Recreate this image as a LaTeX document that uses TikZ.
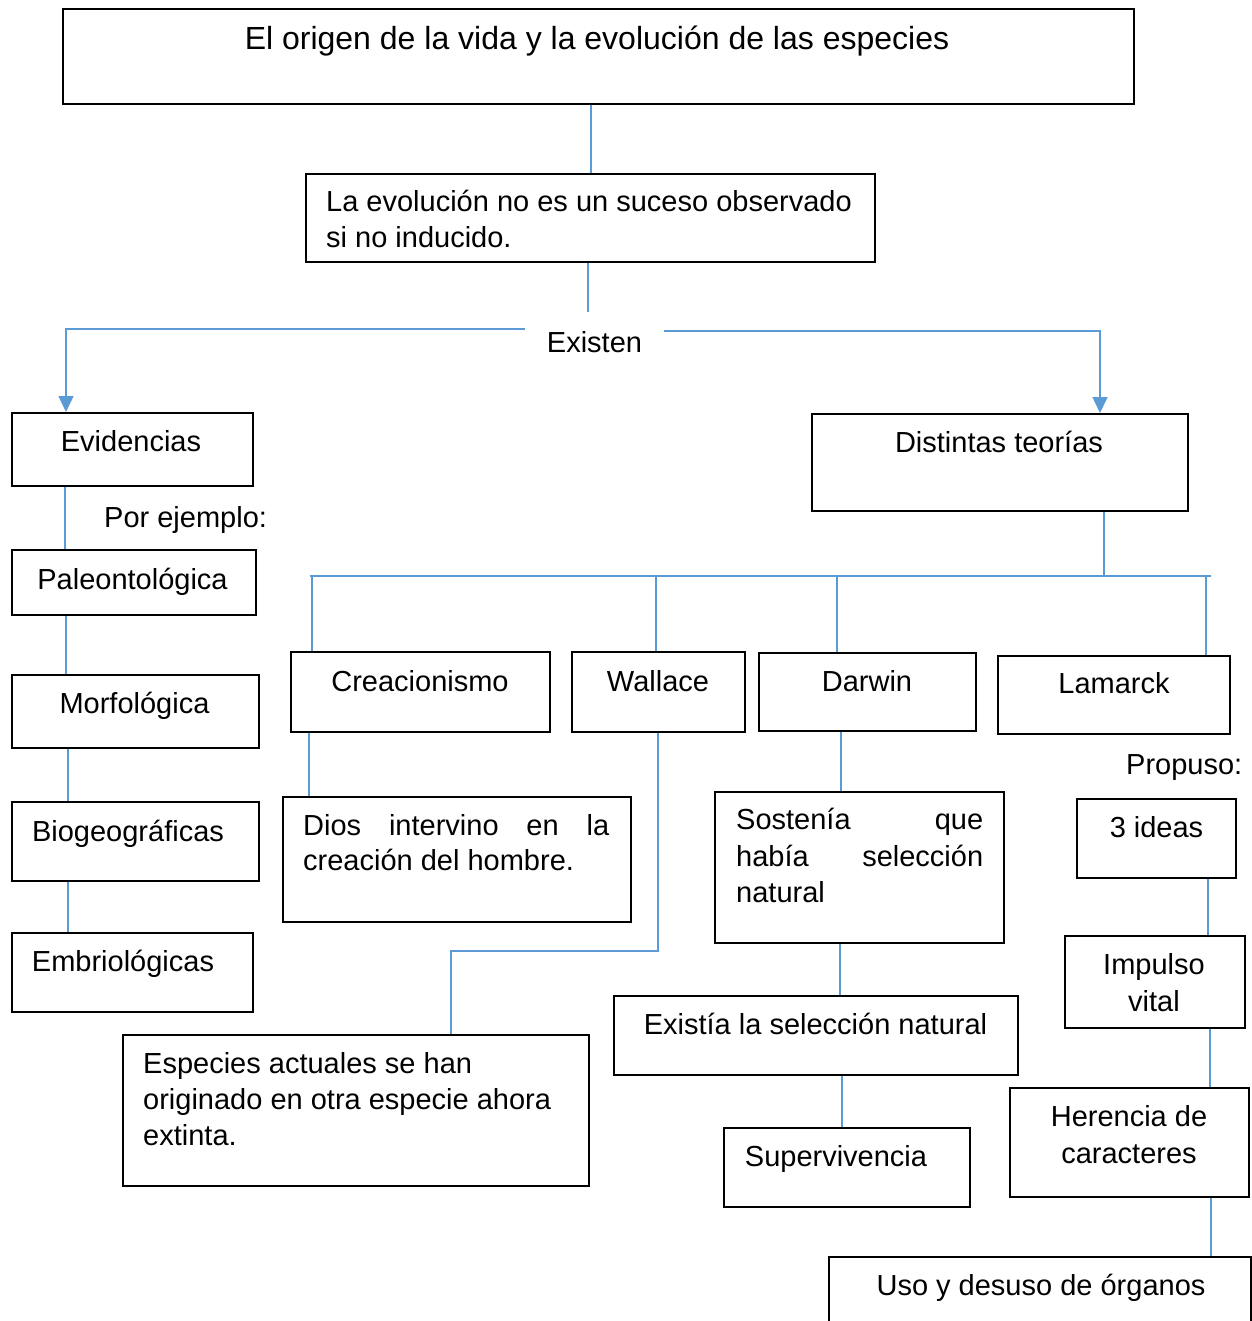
\documentclass[tikz,border=0pt]{standalone}
\usepackage{fontspec}
\setmainfont{Liberation Sans}
\usetikzlibrary{arrows.meta}
\definecolor{lnblue}{HTML}{5B9BD5}
\newcommand\mkbox[5]{\node[box, minimum width={#3-#1}, minimum height={#4-#2}] (#5) at (#1,#2) {};}
\begin{document}
\begin{tikzpicture}[x=1pt,y=-1pt,
 box/.style={draw=black, line width=2pt, anchor=north west, inner sep=0pt, rectangle},
 txt/.style={inner sep=0pt, font=\fontsize{29}{36}\selectfont},
 link/.style={draw=lnblue, line width=1.5pt},
 arr/.style={link, -{Triangle[width=15pt,length=16pt]}}]
\fill[white] (0,0) rectangle (1251,1321);
\useasboundingbox (0,0) rectangle (1251,1321);

% boxes
\mkbox{62}{8}{1133}{103}{title}
\mkbox{305}{173}{874}{261}{evol}
\mkbox{11}{412}{252}{485}{evid}
\mkbox{11}{549}{255}{614}{paleo}
\mkbox{11}{674}{258}{747}{morfo}
\mkbox{11}{801}{258}{880}{biog}
\mkbox{11}{932}{252}{1011}{embr}
\mkbox{811}{413}{1187}{510}{teor}
\mkbox{290}{651}{549}{731}{creac}
\mkbox{571}{651}{744}{731}{wall}
\mkbox{758}{652}{975}{730}{darw}
\mkbox{997}{655}{1229}{733}{lam}
\mkbox{282}{796}{630}{921}{dios}
\mkbox{122}{1034}{588}{1185}{esp}
\mkbox{714}{791}{1003}{942}{sost}
\mkbox{613}{995}{1017}{1074}{exis}
\mkbox{723}{1127}{969}{1206}{sup}
\mkbox{1076}{798}{1235}{877}{ideas}
\mkbox{1064}{935}{1244}{1027}{imp}
\mkbox{1009}{1087}{1248}{1196}{her}
\mkbox{828}{1256}{1250}{1340}{uso}

% texts
\node[txt, anchor=base, font=\fontsize{32}{38}\selectfont] at (597,50) {El origen de la vida y la evolución de las especies};
\node[txt, anchor=base west] at (326,212) {La evolución no es un suceso observado};
\node[txt, anchor=base west] at (326,248) {si no inducido.};
\node[txt, anchor=base, inner xsep=22pt, inner ysep=19pt] (exist) at (594.5,352) {Existen};
\node[txt, anchor=base] at (131,451) {Evidencias};
\node[txt, anchor=base west] at (104,527) {Por ejemplo:};
\node[txt, anchor=base] at (132.5,589) {Paleontológica};
\node[txt, anchor=base] at (134.5,713) {Morfológica};
\node[txt, anchor=base] at (128,841) {Biogeográficas};
\node[txt, anchor=base] at (123,971) {Embriológicas};
\node[txt, anchor=base] at (999,452) {Distintas teorías};
\node[txt, anchor=base] at (420,691) {Creacionismo};
\node[txt, anchor=base] at (658,691) {Wallace};
\node[txt, anchor=base] at (867,691) {Darwin};
\node[txt, anchor=base] at (1114,693) {Lamarck};
\node[txt, anchor=base west] at (303,835) {\makebox[306pt][s]{Dios intervino en la}};
\node[txt, anchor=base west] at (303,870) {creación del hombre.};
\node[txt, anchor=base west] at (736,829) {\makebox[247pt][s]{Sostenía que}};
\node[txt, anchor=base west] at (736,866) {\makebox[247pt][s]{había selección}};
\node[txt, anchor=base west] at (736,902) {natural};
\node[txt, anchor=base west] at (143,1073) {Especies actuales se han};
\node[txt, anchor=base west] at (143,1109) {originado en otra especie ahora};
\node[txt, anchor=base west] at (143,1145) {extinta.};
\node[txt, anchor=base] at (815.5,1034) {Existía la selección natural};
\node[txt, anchor=base] at (836,1166) {Supervivencia};
\node[txt, anchor=base west] at (1126,774) {Propuso:};
\node[txt, anchor=base] at (1156.5,837) {3 ideas};
\node[txt, anchor=base] at (1154,974) {Impulso};
\node[txt, anchor=base] at (1154,1011) {vital};
\node[txt, anchor=base] at (1129,1126) {Herencia de};
\node[txt, anchor=base] at (1129,1163) {caracteres};
\node[txt, anchor=base] at (1041,1295) {Uso y desuso de órganos};

% connectors
\coordinate (barL) at (310,576);
\coordinate (barR) at (1211,576);
\draw[link] (title.south -| 591,0) -- (evol.north -| 591,0);
\draw[link] (evol.south -| 588,0) -- (exist.north -| 588,0);
\draw[arr] (exist.west |- 0,329) -- (66,329) -- (evid.north -| 66,0);
\draw[arr] (exist.east |- 0,331) -- (1100,331) -- (teor.north -| 1100,0);
\draw[link] (evid.south -| 65,0) -- (paleo.north -| 65,0);
\draw[link] (paleo.south -| 66,0) -- (morfo.north -| 66,0);
\draw[link] (morfo.south -| 68,0) -- (biog.north -| 68,0);
\draw[link] (biog.south -| 68,0) -- (embr.north -| 68,0);
\draw[link] (teor.south -| 1104,0) -- (barL -| 1104,0);
\draw[link] (barL) -- (barR);
\draw[link] (barL -| 312,0) -- (creac.north -| 312,0);
\draw[link] (barL -| 656,0) -- (wall.north -| 656,0);
\draw[link] (barL -| 837,0) -- (darw.north -| 837,0);
\draw[link] (barL -| 1206,0) -- (lam.north -| 1206,0);
\draw[link] (creac.south -| 309,0) -- (dios.north -| 309,0);
\draw[link] (wall.south -| 658,0) -- (658,951) -- (451,951) -- (esp.north -| 451,0);
\draw[link] (darw.south -| 841,0) -- (sost.north -| 841,0);
\draw[link] (sost.south -| 840,0) -- (exis.north -| 840,0);
\draw[link] (exis.south -| 842,0) -- (sup.north -| 842,0);
\draw[link] (ideas.south -| 1208,0) -- (imp.north -| 1208,0);
\draw[link] (imp.south -| 1210,0) -- (her.north -| 1210,0);
\draw[link] (her.south -| 1211,0) -- (uso.north -| 1211,0);
\end{tikzpicture}
\end{document}
